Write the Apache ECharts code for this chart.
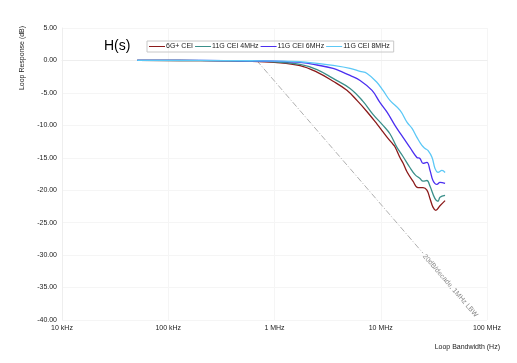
<!DOCTYPE html>
<html><head><meta charset="utf-8">
<script src="https://cdn.jsdelivr.net/npm/echarts@6/dist/echarts.min.js"></script>
<style>html,body{margin:0;padding:0;background:#fff}#c{width:517px;height:363px}</style>
</head><body><div id="c"></div>
<script>
const seriesNames = ['6G+ CEI', '11G CEI 4MHz', '11G CEI 6MHz', '11G CEI 8MHz'];
const seriesColors = ['#8b1a1a', '#3a8f8a', '#4b2ff0', '#5cc8f6'];
const xTickLabels = ['10 kHz', '100 kHz', '1 MHz', '10 MHz', '100 MHz'];
const yTicks = [5, 0, -5, -10, -15, -20, -25, -30, -35, -40];

// Frequencies (Hz) and responses (dB)
const red_f  = [5.1e4, 2e5, 6e5, 1e6, 1.74e6, 2.51e6, 3.56e6, 4.8e6, 6.0e6, 7.43e6, 9.23e6, 1.05e7, 1.17e7, 1.3e7, 1.36e7, 1.52e7, 1.62e7, 1.77e7, 2.01e7, 2.24e7, 2.5e7, 2.72e7, 2.91e7, 3.1e7, 3.3e7, 3.61e7, 4.03e7];
const red_db = [0, -0.02, -0.12, -0.3, -0.8, -1.8, -3.2, -4.6, -6.2, -7.9, -9.8, -11.0, -12.0, -12.9, -13.3, -15.0, -15.8, -17.2, -18.6, -19.6, -19.6, -20.0, -21.3, -22.6, -23.1, -22.4, -21.6];

const teal_f  = [5.1e4, 2e5, 6e5, 1e6, 1.74e6, 2.51e6, 3.56e6, 5.14e6, 6.81e6, 8.45e6, 1.05e7, 1.22e7, 1.42e7, 1.62e7, 1.88e7, 2.1e7, 2.34e7, 2.5e7, 2.72e7, 2.91e7, 3.24e7, 3.46e7, 3.61e7, 4.03e7];
const teal_db = [0, -0.02, -0.1, -0.2, -0.62, -1.4, -2.77, -4.31, -6.3, -8.3, -10.0, -11.3, -13.4, -14.8, -16.5, -17.6, -18.2, -18.6, -18.5, -19.4, -21.3, -21.7, -21.1, -20.8];

const blue_f  = [5.1e4, 2e5, 6e5, 1e6, 1.74e6, 2.51e6, 3.56e6, 4.42e6, 5.14e6, 6.39e6, 8.28e6, 9.85e6, 1.15e7, 1.36e7, 1.58e7, 1.88e7, 2.19e7, 2.34e7, 2.5e7, 2.72e7, 2.91e7, 3.1e7, 3.38e7, 3.61e7, 4.03e7];
const blue_db = [0, 0, -0.08, -0.1, -0.31, -0.7, -1.23, -1.85, -2.31, -3.08, -4.62, -6.5, -8.0, -10.0, -11.6, -13.4, -14.95, -15.1, -15.87, -15.72, -16.95, -18.49, -19.11, -18.8, -18.95];

const lblue_f  = [5.1e4, 2e5, 6e5, 1e6, 1.74e6, 2.51e6, 3.56e6, 5.14e6, 6.39e6, 7.43e6, 9.23e6, 1.05e7, 1.22e7, 1.52e7, 1.77e7, 1.97e7, 2.19e7, 2.44e7, 2.61e7, 2.78e7, 3.04e7, 3.24e7, 3.46e7, 3.77e7, 4.03e7];
const lblue_db = [0, 0, -0.05, -0.1, -0.2, -0.46, -0.77, -1.23, -1.69, -2.0, -3.39, -4.62, -6.16, -7.7, -9.55, -10.48, -11.86, -13.1, -13.56, -13.87, -14.95, -16.64, -17.26, -16.95, -17.26];

const ref_f  = [6.8e5, 2.5e7];
const ref_db = [0, -29.7];

const zip = (f, d) => f.map((v, i) => [v, d[i]]);
const allF = [red_f, teal_f, blue_f, lblue_f];
const allD = [red_db, teal_db, blue_db, lblue_db];

const chart = echarts.init(document.getElementById('c'), null, {renderer: 'canvas'});
const font = 'Liberation Sans, Arial, sans-serif';
const labelMap = {4: xTickLabels[0], 5: xTickLabels[1], 6: xTickLabels[2], 7: xTickLabels[3], 8: xTickLabels[4]};

const series = seriesNames.map((n, i) => ({
  name: n, type: 'line', data: zip(allF[i], allD[i]), smooth: 0.4, showSymbol: false,
  lineStyle: {color: seriesColors[i], width: 1.3}, itemStyle: {color: seriesColors[i]}, z: 3
}));
series.push({
  name: 'ref', type: 'line', data: zip(ref_f, ref_db), showSymbol: false, silent: true,
  lineStyle: {color: '#9a9a9a', width: 0.8, type: [6, 2, 1, 2]}, z: 2
});

chart.setOption({
  animation: false,
  backgroundColor: '#fff',
  grid: {left: 62, right: 30, top: 28, bottom: 43},
  title: {text: 'H(s)', left: 104, top: 39, padding: 0, textStyle: {fontSize: 14, fontWeight: 'normal', color: '#000', fontFamily: font}},
  legend: {
    data: seriesNames, left: 147, top: 41, padding: [2, 4, 2, 2],
    borderColor: '#c8c8c8', borderWidth: 1, itemWidth: 16, itemHeight: 1, itemGap: 2, icon: 'rect',
    textStyle: {fontSize: 7, color: '#222', fontFamily: font, padding: [0, 0, 0, -4]}
  },
  xAxis: {
    type: 'log', logBase: 10, min: 1e4, max: 1e8,
    axisLine: {show: true, lineStyle: {color: '#eeeeee'}}, axisTick: {show: false},
    splitLine: {show: true, lineStyle: {color: '#f5f5f5', width: 1}},
    axisLabel: {fontSize: 7, color: '#222', fontFamily: font, margin: 5,
      formatter: v => labelMap[Math.round(Math.log10(v))] || ''}
  },
  yAxis: {
    type: 'value', min: -40, max: 5, interval: 5,
    axisLine: {show: true, lineStyle: {color: '#eeeeee'}}, axisTick: {show: false},
    splitLine: {show: true, lineStyle: {color: '#f5f5f5', width: 1}},
    axisLabel: {fontSize: 7, color: '#222', fontFamily: font, margin: 5, formatter: v => v.toFixed(2)}
  },
  series: series
});

const p0 = chart.convertToPixel({gridIndex: 0}, [ref_f[1], ref_db[1]]);
const p1 = chart.convertToPixel({gridIndex: 0}, [ref_f[0], ref_db[0]]);
const ang = Math.atan2(p0[1] - p1[1], p0[0] - p1[0]);
chart.setOption({
  graphic: [
    {type: 'text', x: 22, y: 58, rotation: Math.PI / 2, style: {text: 'Loop Response (dB)', fontSize: 7, fill: '#222', font: '7px ' + font, textAlign: 'center', textVerticalAlign: 'middle'}},
    {type: 'text', x: 500, y: 347, style: {text: 'Loop Bandwidth (Hz)', fill: '#222', font: '7px ' + font, textAlign: 'right', textVerticalAlign: 'middle'}},
    {type: 'text', x: p0[0] + 1, y: p0[1] + 2, rotation: -ang, style: {text: '20dB/decade, 1MHz LBW', fill: '#8a8a8a', font: '7px ' + font, textAlign: 'left', textVerticalAlign: 'middle'}}
  ]
});
</script></body></html>
